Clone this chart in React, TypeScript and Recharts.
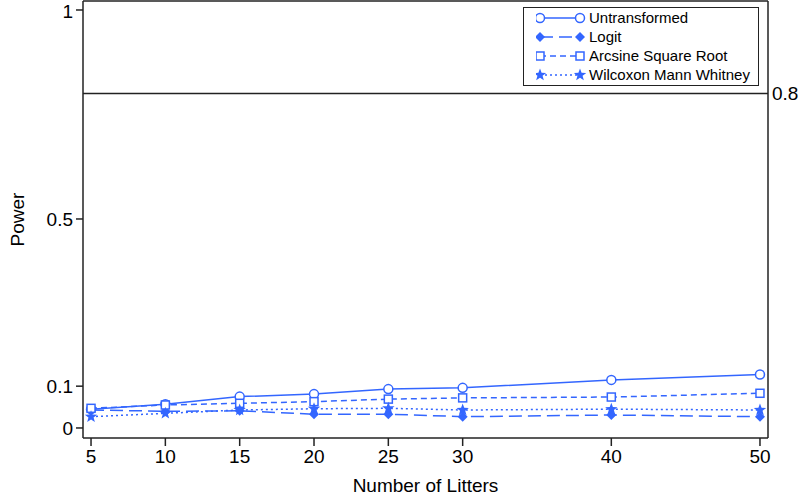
import React from 'react';
import {
  LineChart,
  Line,
  XAxis,
  YAxis,
  ReferenceLine,
  Label,
} from 'recharts';

const litters = [5, 10, 15, 20, 25, 30, 40, 50];
const untransformed = [0.045, 0.057, 0.075, 0.081, 0.093, 0.096, 0.115, 0.128];
const logit = [0.043, 0.04, 0.041, 0.033, 0.033, 0.027, 0.031, 0.027];
const arcsine = [0.047, 0.055, 0.059, 0.063, 0.069, 0.072, 0.074, 0.083];
const wilcoxon = [0.027, 0.035, 0.043, 0.046, 0.047, 0.043, 0.045, 0.043];

const xTicks = [5, 10, 15, 20, 25, 30, 40, 50];
const yTicks = [0, 0.1, 0.5, 1];
const targetPower = 0.8;

const BLUE = '#3366FF';
const FONT = '"Liberation Sans", Arial, sans-serif';

type MarkerKind = 'circle' | 'diamond' | 'square' | 'star';

// one marker glyph, centred on (cx, cy)
function Marker({ kind, cx, cy }: { kind: MarkerKind; cx: number; cy: number }) {
  if (kind === 'circle') {
    return <circle cx={cx} cy={cy} r={4.5} fill="#fff" stroke={BLUE} strokeWidth={1.5} />;
  }
  if (kind === 'square') {
    return <rect x={cx - 4} y={cy - 4} width={8} height={8} fill="#fff" stroke={BLUE} strokeWidth={1.5} />;
  }
  if (kind === 'diamond') {
    const s = 5;
    return (
      <polygon
        points={`${cx},${cy - s} ${cx + s},${cy} ${cx},${cy + s} ${cx - s},${cy}`}
        fill={BLUE}
      />
    );
  }
  const pts: string[] = [];
  for (let i = 0; i < 10; i++) {
    const r = i % 2 === 0 ? 6.5 : 2.7;
    const a = -Math.PI / 2 + (i * Math.PI) / 5;
    pts.push(`${cx + r * Math.cos(a)},${cy + r * Math.sin(a)}`);
  }
  return <polygon points={pts.join(' ')} fill={BLUE} />;
}

const series = [
  { key: 'untransformed', name: 'Untransformed', kind: 'circle' as MarkerKind, dash: undefined },
  { key: 'logit', name: 'Logit', kind: 'diamond' as MarkerKind, dash: '13 6' },
  { key: 'arcsine', name: 'Arcsine Square Root', kind: 'square' as MarkerKind, dash: '6 4' },
  { key: 'wilcoxon', name: 'Wilcoxon Mann Whitney', kind: 'star' as MarkerKind, dash: '2 3' },
];

const data = litters.map((n, i) => ({
  n,
  untransformed: untransformed[i],
  logit: logit[i],
  arcsine: arcsine[i],
  wilcoxon: wilcoxon[i],
}));

// legend drawn as an overlay so the chart keeps its full plot height
function LegendBox() {
  return (
    <div
      style={{
        position: 'absolute',
        top: 7,
        left: 523,
        width: 216,
        border: '1px solid #222',
        background: '#fff',
        padding: '0px 6px 1px 12px',
        fontFamily: FONT,
        fontSize: 15,
        lineHeight: '19px',
        color: '#000',
      }}
    >
      {series.map((s) => (
        <div key={s.key} style={{ display: 'flex', alignItems: 'center', height: 19 }}>
          <svg width={50} height={19} style={{ marginRight: 3, flex: 'none' }}>
            <line x1={4} y1={10} x2={44} y2={10} stroke={BLUE} strokeWidth={1.5} strokeDasharray={s.dash} />
            <Marker kind={s.kind} cx={4} cy={10} />
            <Marker kind={s.kind} cx={44} cy={10} />
          </svg>
          <span style={{ whiteSpace: 'nowrap' }}>{s.name}</span>
        </div>
      ))}
    </div>
  );
}

export default function App() {
  const tickStyle = { fill: '#000', fontSize: 19, fontFamily: FONT };
  return (
    <div style={{ position: 'absolute', left: 0, top: 0, width: 800, height: 495 }}>
      <LineChart
        width={800}
        height={495}
        data={data}
        margin={{ top: 0, right: 0, bottom: 0, left: 0 }}
        style={{ fontFamily: FONT }}
      >
        <XAxis
          dataKey="n"
          type="number"
          domain={[4.46, 50.54]}
          allowDataOverflow
          ticks={xTicks}
          height={57}
          tickSize={8}
          tickMargin={4}
          tick={tickStyle}
          axisLine={{ stroke: '#222', strokeWidth: 1.5 }}
          tickLine={{ stroke: '#222', strokeWidth: 1.5 }}
        >
          <Label value="Number of Litters" position="insideBottom" offset={3} fill="#000" fontSize={19} />
        </XAxis>
        <XAxis
          xAxisId="top"
          dataKey="n"
          type="number"
          orientation="top"
          domain={[4.46, 50.54]}
          allowDataOverflow
          height={1}
          tick={false}
          tickLine={false}
          axisLine={{ stroke: '#222', strokeWidth: 1.5 }}
        />
        <YAxis
          type="number"
          domain={[-0.024, 1.0215]}
          allowDataOverflow
          ticks={yTicks}
          width={83}
          tickSize={7}
          tickMargin={3}
          tick={tickStyle}
          axisLine={{ stroke: '#222', strokeWidth: 1.5 }}
          tickLine={{ stroke: '#222', strokeWidth: 1.5 }}
        >
          <Label
            content={({ viewBox }: any) => {
              const cy = viewBox.y + viewBox.height / 2;
              return (
                <text
                  x={24}
                  y={cy}
                  transform={`rotate(-90, 24, ${cy})`}
                  textAnchor="middle"
                  fontSize={19}
                  fill="#000"
                  fontFamily={FONT}
                >
                  Power
                </text>
              );
            }}
          />
        </YAxis>
        <YAxis
          yAxisId="right"
          orientation="right"
          type="number"
          domain={[-0.024, 1.0215]}
          allowDataOverflow
          ticks={[targetPower]}
          width={32}
          tickSize={0}
          tickMargin={4}
          tickLine={false}
          tick={tickStyle}
          axisLine={{ stroke: '#222', strokeWidth: 1.5 }}
        />
        <ReferenceLine y={targetPower} stroke="#222" strokeWidth={1.5} />
        {series.map((s) => (
          <Line
            key={s.key}
            dataKey={s.key}
            name={s.name}
            stroke={BLUE}
            strokeWidth={1.5}
            strokeDasharray={s.dash}
            isAnimationActive={false}
            activeDot={false}
            dot={(p: any) => <Marker key={`${s.key}-${p.index}`} kind={s.kind} cx={p.cx} cy={p.cy} />}
          />
        ))}
      </LineChart>
      <LegendBox />
    </div>
  );
}
